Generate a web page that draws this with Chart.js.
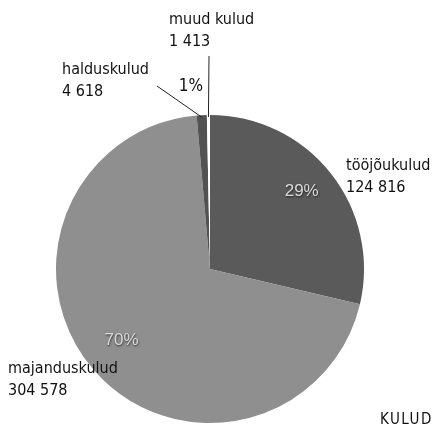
<!DOCTYPE html>
<html>
<head>
<meta charset="utf-8">
<script src="https://cdn.jsdelivr.net/npm/chart.js@4"></script>
<style>
  html, body { margin: 0; padding: 0; background: #fff; }
  #wrap { width: 435px; height: 428px; }
</style>
</head>
<body>
<div id="wrap"><canvas id="container"></canvas></div>
<script>
const CATEGORIES = ["tööjõukulud", "majanduskulud", "halduskulud", "muud kulud"];
const VALUES = [124816, 304578, 4618, 1413];
const VALUE_LABELS = ["124 816", "304 578", "4 618", "1 413"];
const COLORS = ["#5a5a5a", "#8f8f8f", "#525252", "#ffffff"];
const TITLE = "KULUD";

const LABEL_FONT = '16px "Liberation Sans Narrow", "DejaVu Sans Condensed", sans-serif';

const total = VALUES.reduce((a, b) => a + b, 0);
const pct = (v) => Math.round((v / total) * 100) + "%";

// where the name + value labels sit, as offsets from the pie centre
const labelOffsets = [
  { dx: 136, dy: -99 },   // tööjõukulud
  { dx: -202, dy: 104 },  // majanduskulud
  { dx: -148, dy: -195 }, // halduskulud
  { dx: -41, dy: -245 },  // muud kulud
];

const labelsPlugin = {
  id: "labels",
  afterDraw(chart) {
    const ctx = chart.ctx;
    const arcs = chart.getDatasetMeta(0).data;
    const cx = arcs[0].x;
    const cy = arcs[0].y;
    const R = arcs[0].outerRadius;
    ctx.save();

    // name + value outside
    ctx.font = LABEL_FONT;
    ctx.fillStyle = "#111";
    ctx.textAlign = "left";
    ctx.textBaseline = "alphabetic";
    CATEGORIES.forEach((name, i) => {
      const o = labelOffsets[i];
      ctx.fillText(name, cx + o.dx, cy + o.dy);
      ctx.fillText(VALUE_LABELS[i], cx + o.dx, cy + o.dy + 22);
    });

    // leader lines for the thin slices
    ctx.strokeStyle = "#222";
    ctx.lineWidth = 1;
    [2, 3].forEach((i) => {
      const a = arcs[i];
      const mid = (a.startAngle + a.endAngle) / 2;
      const ex = cx + Math.cos(mid) * (R - 2);
      const ey = cy + Math.sin(mid) * (R - 2);
      const o = labelOffsets[i];
      let sx, sy;
      if (i === 2) { sx = cx + o.dx + 95; sy = cy + o.dy + 12; }
      else { sx = cx + o.dx + 40; sy = cy + o.dy + 32; }
      ctx.beginPath();
      ctx.moveTo(sx, sy);
      ctx.lineTo(ex, ey);
      ctx.stroke();
    });

    // 1% label for halduskulud
    ctx.font = '17px "Liberation Sans Narrow", "DejaVu Sans Condensed", sans-serif';
    ctx.fillStyle = "#111";
    ctx.textAlign = "center";
    ctx.fillText(pct(VALUES[2]), cx - 19, cy - 178);

    // inside percentages
    ctx.font = '17px "Liberation Sans", Arial, sans-serif';
    ctx.textBaseline = "middle";
    [0, 1].forEach((i) => {
      const a = arcs[i];
      const mid = (a.startAngle + a.endAngle) / 2;
      const r = R * 0.76;
      const x = cx + Math.cos(mid) * r;
      const y = cy + Math.sin(mid) * r - 5;
      ctx.shadowColor = "rgba(0,0,0,0.7)";
      ctx.shadowBlur = 2;
      ctx.shadowOffsetX = 0.5;
      ctx.shadowOffsetY = 1;
      ctx.fillStyle = "#dcdcdc";
      ctx.fillText(pct(VALUES[i]), x, y);
    });
    ctx.shadowColor = "transparent";

    // title
    ctx.font = '15px "Liberation Sans Narrow", "DejaVu Sans Condensed", sans-serif';
    ctx.fillStyle = "#111";
    ctx.textAlign = "left";
    ctx.textBaseline = "alphabetic";
    ctx.letterSpacing = "1.5px";
    ctx.fillText(TITLE, 380, 424);
    ctx.restore();
  },
};

new Chart(document.getElementById("container"), {
  type: "pie",
  data: {
    labels: CATEGORIES,
    datasets: [
      {
        data: VALUES,
        backgroundColor: COLORS,
        borderWidth: 0,
      },
    ],
  },
  options: {
    responsive: true,
    maintainAspectRatio: false,
    animation: false,
    layout: { padding: { top: 115, bottom: 5, left: 56, right: 71 } },
    plugins: {
      legend: { display: false },
      tooltip: { enabled: false },
    },
  },
  plugins: [labelsPlugin],
});
</script>
</body>
</html>
